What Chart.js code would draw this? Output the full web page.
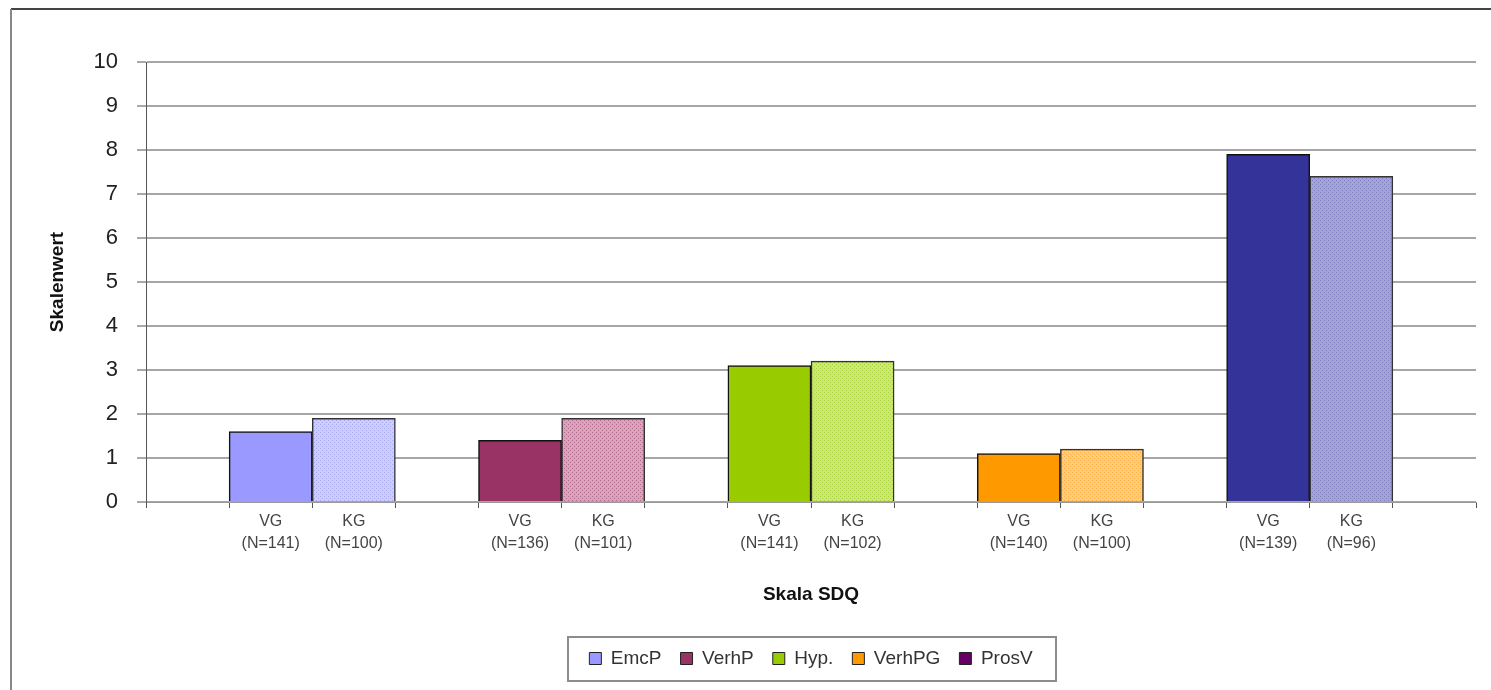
<!DOCTYPE html>
<html><head><meta charset="utf-8">
<script src="https://cdn.jsdelivr.net/npm/chart.js@4/dist/chart.umd.min.js"></script>
<style>html,body{margin:0;padding:0;background:#fff;}canvas{display:block}</style>
</head><body>
<canvas id="c" width="1491" height="690"></canvas>
<script>
const seriesNames = ["EmcP", "VerhP", "Hyp.", "VerhPG", "ProsV"];
const groupNames = ["VG", "KG"];
const vgN = [141, 136, 141, 140, 139];
const kgN = [100, 101, 102, 100, 96];
const vgValues = [1.6, 1.4, 3.1, 1.1, 7.9];
const kgValues = [1.9, 1.9, 3.2, 1.2, 7.4];
const yTickValues = [0, 1, 2, 3, 4, 5, 6, 7, 8, 9, 10];
const xTitle = "Skala SDQ";
const yTitle = "Skalenwert";

const legendColors = ["#9999FF", "#993366", "#99CC00", "#FF9900", "#660066"];
const vgColors = ["#9999FF", "#993366", "#99CC00", "#FF9900", "#333399"];
const kgBaseColors = ["#CCCCFF", "#D9A3BD", "#CCE67F", "#FFCC80", "#A3A3D6"];
const kgDotColors = ["#A8A8F0", "#B36B8C", "#AAD433", "#FFB040", "#7F7FC0"];

const FONT = "'Liberation Sans', Arial, sans-serif";

function makePattern(base, dot) {
  const c = document.createElement('canvas');
  c.width = 4; c.height = 4;
  const g = c.getContext('2d');
  g.fillStyle = base; g.fillRect(0, 0, 4, 4);
  g.fillStyle = dot;
  g.fillRect(0, 0, 1, 1); g.fillRect(2, 2, 1, 1);
  return g.createPattern(c, 'repeat');
}

// categories: empty slot, VG, KG for each scale, plus trailing empty slot
const labels = [];
seriesNames.forEach((s, i) => {
  labels.push("");
  labels.push([groupNames[0], "(N=" + vgN[i] + ")"]);
  labels.push([groupNames[1], "(N=" + kgN[i] + ")"]);
});
labels.push("");

const datasets = seriesNames.map((name, i) => {
  const data = labels.map(() => null);
  data[1 + 3 * i] = vgValues[i];
  data[2 + 3 * i] = kgValues[i];
  const bg = labels.map(() => 'rgba(0,0,0,0)');
  bg[1 + 3 * i] = vgColors[i];
  bg[2 + 3 * i] = makePattern(kgBaseColors[i], kgDotColors[i]);
  const bc = labels.map(() => '#111');
  bc[2 + 3 * i] = '#333';
  return {
    label: name,
    data: data,
    backgroundColor: bg,
    borderColor: bc,
    borderWidth: 1.5,
    categoryPercentage: 1.0,
    barPercentage: 1.0
  };
});

const framePlugin = {
  id: 'frame',
  afterLayout(chart) {
    const lg = chart.legend, ca = chart.chartArea;
    if (!lg) return;
    const shift = (ca.left + ca.right) / 2 - (lg.left + lg.right) / 2;
    lg.left += shift; lg.right += shift;
  },
  afterDraw(chart) {
    const ctx = chart.ctx;
    ctx.save();
    // outer frame
    ctx.strokeStyle = '#444'; ctx.lineWidth = 2;
    ctx.beginPath(); ctx.moveTo(11, 9); ctx.lineTo(1491, 9); ctx.stroke();
    ctx.strokeStyle = '#888';
    ctx.beginPath(); ctx.moveTo(11, 9); ctx.lineTo(11, 690); ctx.stroke();
    // legend box
    const hb = chart.legend && chart.legend.legendHitBoxes;
    if (hb && hb.length) {
      const l = hb[0].left, r = hb[hb.length - 1].left + hb[hb.length - 1].width;
      const cy = hb[0].top + hb[0].height / 2;
      ctx.strokeStyle = '#8c8c8c'; ctx.lineWidth = 2;
      ctx.strokeRect(Math.round(l - 21), Math.round(cy - 22), Math.round(r - l + 45), 44);
    }
    ctx.restore();
  }
};

new Chart(document.getElementById('c'), {
  type: 'bar',
  data: { labels: labels, datasets: datasets },
  plugins: [framePlugin],
  options: {
    responsive: false,
    animation: false,
    devicePixelRatio: 1,
    layout: { padding: { left: 12, right: 15, top: 62, bottom: 12 } },
    plugins: {
      tooltip: { enabled: false },
      legend: {
        position: 'bottom',
        labels: {
          font: { family: FONT, size: 19 },
          color: '#333',
          boxWidth: 12,
          boxHeight: 12,
          padding: 19,
          generateLabels: () => seriesNames.map((n, i) => ({
            text: n,
            fillStyle: legendColors[i],
            strokeStyle: '#222',
            lineWidth: 1,
            hidden: false,
            datasetIndex: i,
            fontColor: '#333'
          }))
        }
      }
    },
    scales: {
      x: {
        stacked: true,
        offset: true,
        ticks: { font: { family: FONT, size: 16, lineHeight: 1.35 }, color: '#444', padding: 3, maxRotation: 0, autoSkip: false },
        grid: { display: true, drawOnChartArea: false, tickLength: 6, color: '#555', lineWidth: 1, offset: true },
        border: { display: true, color: '#999', width: 1 },
        title: { display: true, text: xTitle, font: { family: FONT, size: 19, weight: 'bold' }, color: '#111', padding: { top: 0, bottom: 24 } },
        afterFit(s) { s.height = 128; }
      },
      y: {
        stacked: true,
        min: yTickValues[0],
        max: yTickValues[yTickValues.length - 1],
        afterBuildTicks(s) { s.ticks = yTickValues.map(v => ({ value: v })); },
        ticks: { font: { family: FONT, size: 22 }, color: '#222', padding: 19 },
        grid: { color: '#a6a6a6', lineWidth: 2, tickLength: 9, tickColor: '#555', tickWidth: 1 },
        border: { display: true, color: '#555', width: 1 },
        title: { display: true, text: yTitle, font: { family: FONT, size: 19, weight: 'bold' }, color: '#111', padding: { top: 34, bottom: 0 } },
        afterFit(s) { s.width = 134; }
      }
    }
  }
});
</script>
</body></html>
